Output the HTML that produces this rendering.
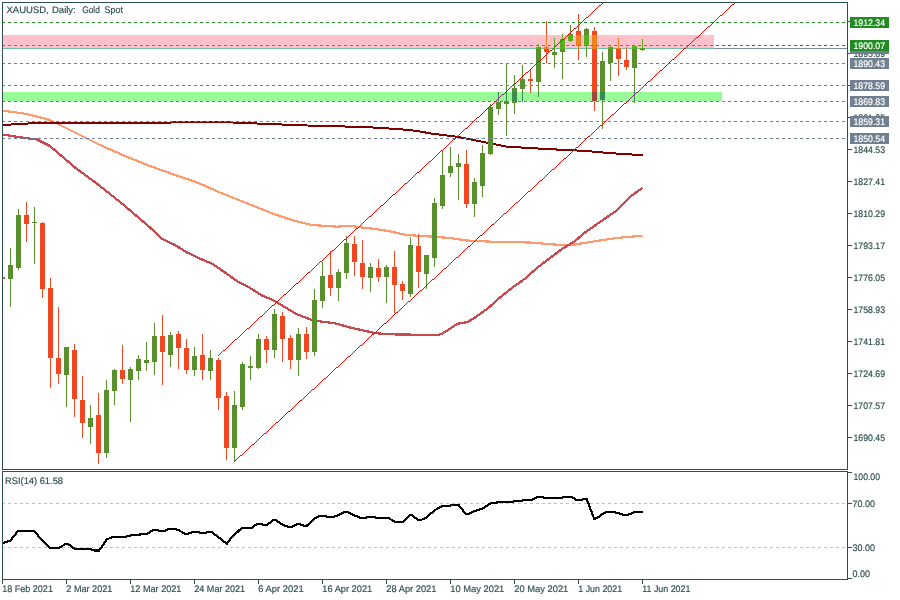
<!DOCTYPE html>
<html><head><meta charset="utf-8"><title>XAUUSD Daily</title>
<style>
html,body{margin:0;padding:0;background:#fff;}
svg{display:block;}
text{font-family:"Liberation Sans","DejaVu Sans",sans-serif;font-size:9.5px;fill:#2f4f4f;stroke:#2f4f4f;stroke-width:.18px;}
.w{fill:#fff;stroke:#fff;}
</style></head><body>
<svg width="900" height="600" viewBox="0 0 900 600" shape-rendering="crispEdges">
<defs>
<clipPath id="cm"><rect x="3" y="3" width="844" height="466"/></clipPath>
<clipPath id="cp"><rect x="3" y="35" width="711" height="14"/></clipPath>
<clipPath id="cg"><rect x="3" y="92" width="719" height="9"/></clipPath>
</defs>
<rect width="900" height="600" fill="#fff"/>
<g clip-path="url(#cm)">

<rect x="3" y="35" width="711" height="13" fill="#ffc0cb"/>
<rect x="3" y="92" width="719" height="9" fill="#98fb98"/>
<rect x="3" y="48" width="844" height="1" fill="#7b8b9b"/>
<rect x="3" y="48" width="711" height="1" fill="#70bfa4"/>
<g shape-rendering="crispEdges" fill="none" stroke-linejoin="round">
<polyline points="2,110.5 25,113.7 50,120 75,132.5 100,145 125,156 150,166 175,175 190,180 200,183.7 220,192.5 245,202.5 270,212.5 295,221 312,225 337,226.7 350,225.8 362,227.5 375,229 386.7,230.8 395,232.5 407,235 433,236.7 450,238 466.7,240.5 491.7,241.7 530,242.5 550,244.2 562.5,245 575,244.5 587.5,242.5 603.3,240 615,238.3 626.7,237 642.5,235.8" stroke="#ff9a6e" stroke-width="2.2"/>
<polyline points="2,134.5 25,138 37,139.5 50,146 75,167.5 100,186 125,206 150,227.5 162,238.7 175,245 187,252.5 200,258.7 212,263.7 225,272.5 237,281 250,288 262,295.5 275,301 280,304.2 296.7,314.2 313.3,320.5 335,323.3 350,327.5 363.3,330.5 375,333 386.7,334.2 413.3,334.7 437.5,335 442,333.7 450,328.7 457.5,323.7 462.5,323 467.5,322 475,317.5 487.5,308.7 500,297.5 512.5,287.5 525,278.7 537.5,267.5 550,258 562.5,248.7 575,241 585,232.5 601.7,220.8 615,211.7 630,196.7 642.5,188" stroke="#c84b50" stroke-width="2.3"/>
<polyline points="2,125 25,123.7 45,122.6 155,122.6 225,122.2 250,123.2 282,124.5 307,125.5 345,126.5 378,127.7 395,129 410,130 420,131.5 432,133.7 445,135.2 456.7,136.7 506.7,146.7 550,149.2 583.3,150.8 603,152.5 618,153.7 635,154.7 643,155" stroke="#800000" stroke-width="2"/>
</g>
<rect x="2" y="277" width="1" height="2" fill="#ef4822"/>
<rect x="0" y="277" width="5" height="2" fill="#ef4822"/>
<rect x="10" y="248" width="1" height="59" fill="#5a8f2e"/>
<rect x="8" y="265" width="5" height="14" fill="#5a8f2e"/>
<rect x="18" y="209" width="1" height="61" fill="#5a8f2e"/>
<rect x="16" y="215" width="5" height="53" fill="#5a8f2e"/>
<rect x="26" y="202" width="1" height="40" fill="#ef4822"/>
<rect x="24" y="215" width="5" height="9" fill="#ef4822"/>
<rect x="34" y="207" width="1" height="57" fill="#5a8f2e"/>
<rect x="32" y="222" width="5" height="1" fill="#5a8f2e"/>
<rect x="42" y="222" width="1" height="76" fill="#ef4822"/>
<rect x="40" y="223" width="5" height="66" fill="#ef4822"/>
<rect x="50" y="278" width="1" height="110" fill="#ef4822"/>
<rect x="48" y="288" width="5" height="70" fill="#ef4822"/>
<rect x="58" y="307" width="1" height="77" fill="#ef4822"/>
<rect x="56" y="358" width="5" height="16" fill="#ef4822"/>
<rect x="66" y="347" width="1" height="60" fill="#5a8f2e"/>
<rect x="64" y="347" width="5" height="28" fill="#5a8f2e"/>
<rect x="74" y="344" width="1" height="73" fill="#ef4822"/>
<rect x="72" y="350" width="5" height="49" fill="#ef4822"/>
<rect x="82" y="376" width="1" height="62" fill="#ef4822"/>
<rect x="80" y="400" width="5" height="23" fill="#ef4822"/>
<rect x="90" y="405" width="1" height="39" fill="#5a8f2e"/>
<rect x="88" y="418" width="5" height="9" fill="#5a8f2e"/>
<rect x="98" y="393" width="1" height="71" fill="#ef4822"/>
<rect x="96" y="415" width="5" height="38" fill="#ef4822"/>
<rect x="106" y="380" width="1" height="78" fill="#5a8f2e"/>
<rect x="104" y="390" width="5" height="63" fill="#5a8f2e"/>
<rect x="114" y="369" width="1" height="36" fill="#5a8f2e"/>
<rect x="112" y="370" width="5" height="21" fill="#5a8f2e"/>
<rect x="122" y="345" width="1" height="39" fill="#ef4822"/>
<rect x="120" y="370" width="5" height="9" fill="#ef4822"/>
<rect x="130" y="367" width="1" height="55" fill="#5a8f2e"/>
<rect x="128" y="369" width="5" height="11" fill="#5a8f2e"/>
<rect x="138" y="355" width="1" height="25" fill="#5a8f2e"/>
<rect x="136" y="359" width="5" height="12" fill="#5a8f2e"/>
<rect x="146" y="342" width="1" height="29" fill="#5a8f2e"/>
<rect x="144" y="360" width="5" height="3" fill="#5a8f2e"/>
<rect x="154" y="323" width="1" height="52" fill="#5a8f2e"/>
<rect x="152" y="336" width="5" height="26" fill="#5a8f2e"/>
<rect x="162" y="315" width="1" height="70" fill="#ef4822"/>
<rect x="160" y="336" width="5" height="16" fill="#ef4822"/>
<rect x="170" y="332" width="1" height="35" fill="#5a8f2e"/>
<rect x="168" y="335" width="5" height="20" fill="#5a8f2e"/>
<rect x="178" y="331" width="1" height="38" fill="#ef4822"/>
<rect x="176" y="334" width="5" height="14" fill="#ef4822"/>
<rect x="186" y="339" width="1" height="35" fill="#ef4822"/>
<rect x="184" y="348" width="5" height="22" fill="#ef4822"/>
<rect x="194" y="347" width="1" height="29" fill="#5a8f2e"/>
<rect x="192" y="356" width="5" height="14" fill="#5a8f2e"/>
<rect x="202" y="334" width="1" height="46" fill="#ef4822"/>
<rect x="200" y="355" width="5" height="15" fill="#ef4822"/>
<rect x="210" y="350" width="1" height="30" fill="#5a8f2e"/>
<rect x="208" y="358" width="5" height="13" fill="#5a8f2e"/>
<rect x="218" y="358" width="1" height="52" fill="#ef4822"/>
<rect x="216" y="360" width="5" height="38" fill="#ef4822"/>
<rect x="226" y="392" width="1" height="68" fill="#ef4822"/>
<rect x="224" y="396" width="5" height="52" fill="#ef4822"/>
<rect x="234" y="391" width="1" height="70" fill="#5a8f2e"/>
<rect x="232" y="405" width="5" height="43" fill="#5a8f2e"/>
<rect x="242" y="362" width="1" height="48" fill="#5a8f2e"/>
<rect x="240" y="364" width="5" height="43" fill="#5a8f2e"/>
<rect x="250" y="356" width="1" height="24" fill="#5a8f2e"/>
<rect x="248" y="366" width="5" height="2" fill="#5a8f2e"/>
<rect x="258" y="334" width="1" height="35" fill="#5a8f2e"/>
<rect x="256" y="339" width="5" height="29" fill="#5a8f2e"/>
<rect x="266" y="336" width="1" height="27" fill="#ef4822"/>
<rect x="264" y="339" width="5" height="11" fill="#ef4822"/>
<rect x="274" y="309" width="1" height="49" fill="#5a8f2e"/>
<rect x="272" y="314" width="5" height="36" fill="#5a8f2e"/>
<rect x="282" y="312" width="1" height="50" fill="#ef4822"/>
<rect x="280" y="316" width="5" height="23" fill="#ef4822"/>
<rect x="290" y="335" width="1" height="34" fill="#ef4822"/>
<rect x="288" y="338" width="5" height="22" fill="#ef4822"/>
<rect x="298" y="328" width="1" height="48" fill="#5a8f2e"/>
<rect x="296" y="334" width="5" height="26" fill="#5a8f2e"/>
<rect x="306" y="327" width="1" height="32" fill="#ef4822"/>
<rect x="304" y="334" width="5" height="18" fill="#ef4822"/>
<rect x="314" y="289" width="1" height="67" fill="#5a8f2e"/>
<rect x="312" y="300" width="5" height="52" fill="#5a8f2e"/>
<rect x="322" y="262" width="1" height="46" fill="#5a8f2e"/>
<rect x="320" y="276" width="5" height="25" fill="#5a8f2e"/>
<rect x="330" y="251" width="1" height="45" fill="#ef4822"/>
<rect x="328" y="275" width="5" height="13" fill="#ef4822"/>
<rect x="338" y="269" width="1" height="32" fill="#5a8f2e"/>
<rect x="336" y="272" width="5" height="16" fill="#5a8f2e"/>
<rect x="346" y="236" width="1" height="43" fill="#5a8f2e"/>
<rect x="344" y="243" width="5" height="30" fill="#5a8f2e"/>
<rect x="354" y="236" width="1" height="40" fill="#ef4822"/>
<rect x="352" y="244" width="5" height="18" fill="#ef4822"/>
<rect x="362" y="240" width="1" height="49" fill="#ef4822"/>
<rect x="360" y="263" width="5" height="14" fill="#ef4822"/>
<rect x="370" y="263" width="1" height="29" fill="#5a8f2e"/>
<rect x="368" y="267" width="5" height="11" fill="#5a8f2e"/>
<rect x="378" y="259" width="1" height="23" fill="#ef4822"/>
<rect x="376" y="268" width="5" height="9" fill="#ef4822"/>
<rect x="386" y="265" width="1" height="38" fill="#5a8f2e"/>
<rect x="384" y="267" width="5" height="10" fill="#5a8f2e"/>
<rect x="394" y="251" width="1" height="62" fill="#ef4822"/>
<rect x="392" y="267" width="5" height="18" fill="#ef4822"/>
<rect x="402" y="281" width="1" height="19" fill="#ef4822"/>
<rect x="400" y="284" width="5" height="7" fill="#ef4822"/>
<rect x="410" y="237" width="1" height="60" fill="#5a8f2e"/>
<rect x="408" y="245" width="5" height="49" fill="#5a8f2e"/>
<rect x="418" y="234" width="1" height="54" fill="#ef4822"/>
<rect x="416" y="246" width="5" height="26" fill="#ef4822"/>
<rect x="426" y="255" width="1" height="34" fill="#5a8f2e"/>
<rect x="424" y="255" width="5" height="19" fill="#5a8f2e"/>
<rect x="434" y="198" width="1" height="69" fill="#5a8f2e"/>
<rect x="432" y="203" width="5" height="55" fill="#5a8f2e"/>
<rect x="442" y="151" width="1" height="58" fill="#5a8f2e"/>
<rect x="440" y="175" width="5" height="31" fill="#5a8f2e"/>
<rect x="450" y="147" width="1" height="30" fill="#5a8f2e"/>
<rect x="448" y="166" width="5" height="7" fill="#5a8f2e"/>
<rect x="458" y="154" width="1" height="46" fill="#5a8f2e"/>
<rect x="456" y="163" width="5" height="4" fill="#5a8f2e"/>
<rect x="466" y="150" width="1" height="58" fill="#ef4822"/>
<rect x="464" y="164" width="5" height="40" fill="#ef4822"/>
<rect x="474" y="178" width="1" height="39" fill="#5a8f2e"/>
<rect x="472" y="182" width="5" height="22" fill="#5a8f2e"/>
<rect x="482" y="145" width="1" height="52" fill="#5a8f2e"/>
<rect x="480" y="153" width="5" height="33" fill="#5a8f2e"/>
<rect x="490" y="104" width="1" height="51" fill="#5a8f2e"/>
<rect x="488" y="107" width="5" height="47" fill="#5a8f2e"/>
<rect x="498" y="92" width="1" height="23" fill="#5a8f2e"/>
<rect x="496" y="102" width="5" height="7" fill="#5a8f2e"/>
<rect x="506" y="63" width="1" height="73" fill="#5a8f2e"/>
<rect x="504" y="101" width="5" height="3" fill="#5a8f2e"/>
<rect x="514" y="75" width="1" height="39" fill="#5a8f2e"/>
<rect x="512" y="88" width="5" height="15" fill="#5a8f2e"/>
<rect x="522" y="65" width="1" height="37" fill="#5a8f2e"/>
<rect x="520" y="79" width="5" height="10" fill="#5a8f2e"/>
<rect x="530" y="70" width="1" height="23" fill="#ef4822"/>
<rect x="528" y="79" width="5" height="2" fill="#ef4822"/>
<rect x="538" y="44" width="1" height="53" fill="#5a8f2e"/>
<rect x="536" y="47" width="5" height="35" fill="#5a8f2e"/>
<rect x="546" y="21" width="1" height="42" fill="#ef4822"/>
<rect x="544" y="47" width="5" height="5" fill="#ef4822"/>
<rect x="554" y="38" width="1" height="30" fill="#5a8f2e"/>
<rect x="552" y="52" width="5" height="3" fill="#5a8f2e"/>
<rect x="562" y="34" width="1" height="45" fill="#5a8f2e"/>
<rect x="560" y="39" width="5" height="13" fill="#5a8f2e"/>
<rect x="570" y="25" width="1" height="17" fill="#5a8f2e"/>
<rect x="568" y="34" width="5" height="7" fill="#5a8f2e"/>
<rect x="578" y="14" width="1" height="46" fill="#ef4822"/>
<rect x="576" y="31" width="5" height="15" fill="#ef4822"/>
<rect x="586" y="28" width="1" height="29" fill="#5a8f2e"/>
<rect x="584" y="29" width="5" height="17" fill="#5a8f2e"/>
<rect x="594" y="27" width="1" height="84" fill="#ef4822"/>
<rect x="592" y="31" width="5" height="70" fill="#ef4822"/>
<rect x="602" y="52" width="1" height="77" fill="#5a8f2e"/>
<rect x="600" y="61" width="5" height="39" fill="#5a8f2e"/>
<rect x="610" y="45" width="1" height="36" fill="#5a8f2e"/>
<rect x="608" y="47" width="5" height="16" fill="#5a8f2e"/>
<rect x="618" y="38" width="1" height="38" fill="#ef4822"/>
<rect x="616" y="48" width="5" height="11" fill="#ef4822"/>
<rect x="626" y="47" width="1" height="23" fill="#ef4822"/>
<rect x="624" y="60" width="5" height="7" fill="#ef4822"/>
<rect x="634" y="45" width="1" height="58" fill="#5a8f2e"/>
<rect x="632" y="46" width="5" height="22" fill="#5a8f2e"/>
<rect x="642" y="39" width="1" height="12" fill="#5a8f2e"/>
<rect x="640" y="48" width="5" height="2" fill="#5a8f2e"/>
<g clip-path="url(#cp)"><rect x="2" y="277" width="1" height="2" fill="#f0801e"/>
<rect x="0" y="277" width="5" height="2" fill="#f0801e"/>
<rect x="10" y="248" width="1" height="59" fill="#5ab01a"/>
<rect x="8" y="265" width="5" height="14" fill="#5ab01a"/>
<rect x="18" y="209" width="1" height="61" fill="#5ab01a"/>
<rect x="16" y="215" width="5" height="53" fill="#5ab01a"/>
<rect x="26" y="202" width="1" height="40" fill="#f0801e"/>
<rect x="24" y="215" width="5" height="9" fill="#f0801e"/>
<rect x="34" y="207" width="1" height="57" fill="#5ab01a"/>
<rect x="32" y="222" width="5" height="1" fill="#5ab01a"/>
<rect x="42" y="222" width="1" height="76" fill="#f0801e"/>
<rect x="40" y="223" width="5" height="66" fill="#f0801e"/>
<rect x="50" y="278" width="1" height="110" fill="#f0801e"/>
<rect x="48" y="288" width="5" height="70" fill="#f0801e"/>
<rect x="58" y="307" width="1" height="77" fill="#f0801e"/>
<rect x="56" y="358" width="5" height="16" fill="#f0801e"/>
<rect x="66" y="347" width="1" height="60" fill="#5ab01a"/>
<rect x="64" y="347" width="5" height="28" fill="#5ab01a"/>
<rect x="74" y="344" width="1" height="73" fill="#f0801e"/>
<rect x="72" y="350" width="5" height="49" fill="#f0801e"/>
<rect x="82" y="376" width="1" height="62" fill="#f0801e"/>
<rect x="80" y="400" width="5" height="23" fill="#f0801e"/>
<rect x="90" y="405" width="1" height="39" fill="#5ab01a"/>
<rect x="88" y="418" width="5" height="9" fill="#5ab01a"/>
<rect x="98" y="393" width="1" height="71" fill="#f0801e"/>
<rect x="96" y="415" width="5" height="38" fill="#f0801e"/>
<rect x="106" y="380" width="1" height="78" fill="#5ab01a"/>
<rect x="104" y="390" width="5" height="63" fill="#5ab01a"/>
<rect x="114" y="369" width="1" height="36" fill="#5ab01a"/>
<rect x="112" y="370" width="5" height="21" fill="#5ab01a"/>
<rect x="122" y="345" width="1" height="39" fill="#f0801e"/>
<rect x="120" y="370" width="5" height="9" fill="#f0801e"/>
<rect x="130" y="367" width="1" height="55" fill="#5ab01a"/>
<rect x="128" y="369" width="5" height="11" fill="#5ab01a"/>
<rect x="138" y="355" width="1" height="25" fill="#5ab01a"/>
<rect x="136" y="359" width="5" height="12" fill="#5ab01a"/>
<rect x="146" y="342" width="1" height="29" fill="#5ab01a"/>
<rect x="144" y="360" width="5" height="3" fill="#5ab01a"/>
<rect x="154" y="323" width="1" height="52" fill="#5ab01a"/>
<rect x="152" y="336" width="5" height="26" fill="#5ab01a"/>
<rect x="162" y="315" width="1" height="70" fill="#f0801e"/>
<rect x="160" y="336" width="5" height="16" fill="#f0801e"/>
<rect x="170" y="332" width="1" height="35" fill="#5ab01a"/>
<rect x="168" y="335" width="5" height="20" fill="#5ab01a"/>
<rect x="178" y="331" width="1" height="38" fill="#f0801e"/>
<rect x="176" y="334" width="5" height="14" fill="#f0801e"/>
<rect x="186" y="339" width="1" height="35" fill="#f0801e"/>
<rect x="184" y="348" width="5" height="22" fill="#f0801e"/>
<rect x="194" y="347" width="1" height="29" fill="#5ab01a"/>
<rect x="192" y="356" width="5" height="14" fill="#5ab01a"/>
<rect x="202" y="334" width="1" height="46" fill="#f0801e"/>
<rect x="200" y="355" width="5" height="15" fill="#f0801e"/>
<rect x="210" y="350" width="1" height="30" fill="#5ab01a"/>
<rect x="208" y="358" width="5" height="13" fill="#5ab01a"/>
<rect x="218" y="358" width="1" height="52" fill="#f0801e"/>
<rect x="216" y="360" width="5" height="38" fill="#f0801e"/>
<rect x="226" y="392" width="1" height="68" fill="#f0801e"/>
<rect x="224" y="396" width="5" height="52" fill="#f0801e"/>
<rect x="234" y="391" width="1" height="70" fill="#5ab01a"/>
<rect x="232" y="405" width="5" height="43" fill="#5ab01a"/>
<rect x="242" y="362" width="1" height="48" fill="#5ab01a"/>
<rect x="240" y="364" width="5" height="43" fill="#5ab01a"/>
<rect x="250" y="356" width="1" height="24" fill="#5ab01a"/>
<rect x="248" y="366" width="5" height="2" fill="#5ab01a"/>
<rect x="258" y="334" width="1" height="35" fill="#5ab01a"/>
<rect x="256" y="339" width="5" height="29" fill="#5ab01a"/>
<rect x="266" y="336" width="1" height="27" fill="#f0801e"/>
<rect x="264" y="339" width="5" height="11" fill="#f0801e"/>
<rect x="274" y="309" width="1" height="49" fill="#5ab01a"/>
<rect x="272" y="314" width="5" height="36" fill="#5ab01a"/>
<rect x="282" y="312" width="1" height="50" fill="#f0801e"/>
<rect x="280" y="316" width="5" height="23" fill="#f0801e"/>
<rect x="290" y="335" width="1" height="34" fill="#f0801e"/>
<rect x="288" y="338" width="5" height="22" fill="#f0801e"/>
<rect x="298" y="328" width="1" height="48" fill="#5ab01a"/>
<rect x="296" y="334" width="5" height="26" fill="#5ab01a"/>
<rect x="306" y="327" width="1" height="32" fill="#f0801e"/>
<rect x="304" y="334" width="5" height="18" fill="#f0801e"/>
<rect x="314" y="289" width="1" height="67" fill="#5ab01a"/>
<rect x="312" y="300" width="5" height="52" fill="#5ab01a"/>
<rect x="322" y="262" width="1" height="46" fill="#5ab01a"/>
<rect x="320" y="276" width="5" height="25" fill="#5ab01a"/>
<rect x="330" y="251" width="1" height="45" fill="#f0801e"/>
<rect x="328" y="275" width="5" height="13" fill="#f0801e"/>
<rect x="338" y="269" width="1" height="32" fill="#5ab01a"/>
<rect x="336" y="272" width="5" height="16" fill="#5ab01a"/>
<rect x="346" y="236" width="1" height="43" fill="#5ab01a"/>
<rect x="344" y="243" width="5" height="30" fill="#5ab01a"/>
<rect x="354" y="236" width="1" height="40" fill="#f0801e"/>
<rect x="352" y="244" width="5" height="18" fill="#f0801e"/>
<rect x="362" y="240" width="1" height="49" fill="#f0801e"/>
<rect x="360" y="263" width="5" height="14" fill="#f0801e"/>
<rect x="370" y="263" width="1" height="29" fill="#5ab01a"/>
<rect x="368" y="267" width="5" height="11" fill="#5ab01a"/>
<rect x="378" y="259" width="1" height="23" fill="#f0801e"/>
<rect x="376" y="268" width="5" height="9" fill="#f0801e"/>
<rect x="386" y="265" width="1" height="38" fill="#5ab01a"/>
<rect x="384" y="267" width="5" height="10" fill="#5ab01a"/>
<rect x="394" y="251" width="1" height="62" fill="#f0801e"/>
<rect x="392" y="267" width="5" height="18" fill="#f0801e"/>
<rect x="402" y="281" width="1" height="19" fill="#f0801e"/>
<rect x="400" y="284" width="5" height="7" fill="#f0801e"/>
<rect x="410" y="237" width="1" height="60" fill="#5ab01a"/>
<rect x="408" y="245" width="5" height="49" fill="#5ab01a"/>
<rect x="418" y="234" width="1" height="54" fill="#f0801e"/>
<rect x="416" y="246" width="5" height="26" fill="#f0801e"/>
<rect x="426" y="255" width="1" height="34" fill="#5ab01a"/>
<rect x="424" y="255" width="5" height="19" fill="#5ab01a"/>
<rect x="434" y="198" width="1" height="69" fill="#5ab01a"/>
<rect x="432" y="203" width="5" height="55" fill="#5ab01a"/>
<rect x="442" y="151" width="1" height="58" fill="#5ab01a"/>
<rect x="440" y="175" width="5" height="31" fill="#5ab01a"/>
<rect x="450" y="147" width="1" height="30" fill="#5ab01a"/>
<rect x="448" y="166" width="5" height="7" fill="#5ab01a"/>
<rect x="458" y="154" width="1" height="46" fill="#5ab01a"/>
<rect x="456" y="163" width="5" height="4" fill="#5ab01a"/>
<rect x="466" y="150" width="1" height="58" fill="#f0801e"/>
<rect x="464" y="164" width="5" height="40" fill="#f0801e"/>
<rect x="474" y="178" width="1" height="39" fill="#5ab01a"/>
<rect x="472" y="182" width="5" height="22" fill="#5ab01a"/>
<rect x="482" y="145" width="1" height="52" fill="#5ab01a"/>
<rect x="480" y="153" width="5" height="33" fill="#5ab01a"/>
<rect x="490" y="104" width="1" height="51" fill="#5ab01a"/>
<rect x="488" y="107" width="5" height="47" fill="#5ab01a"/>
<rect x="498" y="92" width="1" height="23" fill="#5ab01a"/>
<rect x="496" y="102" width="5" height="7" fill="#5ab01a"/>
<rect x="506" y="63" width="1" height="73" fill="#5ab01a"/>
<rect x="504" y="101" width="5" height="3" fill="#5ab01a"/>
<rect x="514" y="75" width="1" height="39" fill="#5ab01a"/>
<rect x="512" y="88" width="5" height="15" fill="#5ab01a"/>
<rect x="522" y="65" width="1" height="37" fill="#5ab01a"/>
<rect x="520" y="79" width="5" height="10" fill="#5ab01a"/>
<rect x="530" y="70" width="1" height="23" fill="#f0801e"/>
<rect x="528" y="79" width="5" height="2" fill="#f0801e"/>
<rect x="538" y="44" width="1" height="53" fill="#5ab01a"/>
<rect x="536" y="47" width="5" height="35" fill="#5ab01a"/>
<rect x="546" y="21" width="1" height="42" fill="#f0801e"/>
<rect x="544" y="47" width="5" height="5" fill="#f0801e"/>
<rect x="554" y="38" width="1" height="30" fill="#5ab01a"/>
<rect x="552" y="52" width="5" height="3" fill="#5ab01a"/>
<rect x="562" y="34" width="1" height="45" fill="#5ab01a"/>
<rect x="560" y="39" width="5" height="13" fill="#5ab01a"/>
<rect x="570" y="25" width="1" height="17" fill="#5ab01a"/>
<rect x="568" y="34" width="5" height="7" fill="#5ab01a"/>
<rect x="578" y="14" width="1" height="46" fill="#f0801e"/>
<rect x="576" y="31" width="5" height="15" fill="#f0801e"/>
<rect x="586" y="28" width="1" height="29" fill="#5ab01a"/>
<rect x="584" y="29" width="5" height="17" fill="#5ab01a"/>
<rect x="594" y="27" width="1" height="84" fill="#f0801e"/>
<rect x="592" y="31" width="5" height="70" fill="#f0801e"/>
<rect x="602" y="52" width="1" height="77" fill="#5ab01a"/>
<rect x="600" y="61" width="5" height="39" fill="#5ab01a"/>
<rect x="610" y="45" width="1" height="36" fill="#5ab01a"/>
<rect x="608" y="47" width="5" height="16" fill="#5ab01a"/>
<rect x="618" y="38" width="1" height="38" fill="#f0801e"/>
<rect x="616" y="48" width="5" height="11" fill="#f0801e"/>
<rect x="626" y="47" width="1" height="23" fill="#f0801e"/>
<rect x="624" y="60" width="5" height="7" fill="#f0801e"/>
<rect x="634" y="45" width="1" height="58" fill="#5ab01a"/>
<rect x="632" y="46" width="5" height="22" fill="#5ab01a"/>
<rect x="642" y="39" width="1" height="12" fill="#5ab01a"/>
<rect x="640" y="48" width="5" height="2" fill="#5ab01a"/></g>
<g clip-path="url(#cg)"><rect x="2" y="277" width="1" height="2" fill="#9a4840"/>
<rect x="0" y="277" width="5" height="2" fill="#9a4840"/>
<rect x="10" y="248" width="1" height="59" fill="#3c8c50"/>
<rect x="8" y="265" width="5" height="14" fill="#3c8c50"/>
<rect x="18" y="209" width="1" height="61" fill="#3c8c50"/>
<rect x="16" y="215" width="5" height="53" fill="#3c8c50"/>
<rect x="26" y="202" width="1" height="40" fill="#9a4840"/>
<rect x="24" y="215" width="5" height="9" fill="#9a4840"/>
<rect x="34" y="207" width="1" height="57" fill="#3c8c50"/>
<rect x="32" y="222" width="5" height="1" fill="#3c8c50"/>
<rect x="42" y="222" width="1" height="76" fill="#9a4840"/>
<rect x="40" y="223" width="5" height="66" fill="#9a4840"/>
<rect x="50" y="278" width="1" height="110" fill="#9a4840"/>
<rect x="48" y="288" width="5" height="70" fill="#9a4840"/>
<rect x="58" y="307" width="1" height="77" fill="#9a4840"/>
<rect x="56" y="358" width="5" height="16" fill="#9a4840"/>
<rect x="66" y="347" width="1" height="60" fill="#3c8c50"/>
<rect x="64" y="347" width="5" height="28" fill="#3c8c50"/>
<rect x="74" y="344" width="1" height="73" fill="#9a4840"/>
<rect x="72" y="350" width="5" height="49" fill="#9a4840"/>
<rect x="82" y="376" width="1" height="62" fill="#9a4840"/>
<rect x="80" y="400" width="5" height="23" fill="#9a4840"/>
<rect x="90" y="405" width="1" height="39" fill="#3c8c50"/>
<rect x="88" y="418" width="5" height="9" fill="#3c8c50"/>
<rect x="98" y="393" width="1" height="71" fill="#9a4840"/>
<rect x="96" y="415" width="5" height="38" fill="#9a4840"/>
<rect x="106" y="380" width="1" height="78" fill="#3c8c50"/>
<rect x="104" y="390" width="5" height="63" fill="#3c8c50"/>
<rect x="114" y="369" width="1" height="36" fill="#3c8c50"/>
<rect x="112" y="370" width="5" height="21" fill="#3c8c50"/>
<rect x="122" y="345" width="1" height="39" fill="#9a4840"/>
<rect x="120" y="370" width="5" height="9" fill="#9a4840"/>
<rect x="130" y="367" width="1" height="55" fill="#3c8c50"/>
<rect x="128" y="369" width="5" height="11" fill="#3c8c50"/>
<rect x="138" y="355" width="1" height="25" fill="#3c8c50"/>
<rect x="136" y="359" width="5" height="12" fill="#3c8c50"/>
<rect x="146" y="342" width="1" height="29" fill="#3c8c50"/>
<rect x="144" y="360" width="5" height="3" fill="#3c8c50"/>
<rect x="154" y="323" width="1" height="52" fill="#3c8c50"/>
<rect x="152" y="336" width="5" height="26" fill="#3c8c50"/>
<rect x="162" y="315" width="1" height="70" fill="#9a4840"/>
<rect x="160" y="336" width="5" height="16" fill="#9a4840"/>
<rect x="170" y="332" width="1" height="35" fill="#3c8c50"/>
<rect x="168" y="335" width="5" height="20" fill="#3c8c50"/>
<rect x="178" y="331" width="1" height="38" fill="#9a4840"/>
<rect x="176" y="334" width="5" height="14" fill="#9a4840"/>
<rect x="186" y="339" width="1" height="35" fill="#9a4840"/>
<rect x="184" y="348" width="5" height="22" fill="#9a4840"/>
<rect x="194" y="347" width="1" height="29" fill="#3c8c50"/>
<rect x="192" y="356" width="5" height="14" fill="#3c8c50"/>
<rect x="202" y="334" width="1" height="46" fill="#9a4840"/>
<rect x="200" y="355" width="5" height="15" fill="#9a4840"/>
<rect x="210" y="350" width="1" height="30" fill="#3c8c50"/>
<rect x="208" y="358" width="5" height="13" fill="#3c8c50"/>
<rect x="218" y="358" width="1" height="52" fill="#9a4840"/>
<rect x="216" y="360" width="5" height="38" fill="#9a4840"/>
<rect x="226" y="392" width="1" height="68" fill="#9a4840"/>
<rect x="224" y="396" width="5" height="52" fill="#9a4840"/>
<rect x="234" y="391" width="1" height="70" fill="#3c8c50"/>
<rect x="232" y="405" width="5" height="43" fill="#3c8c50"/>
<rect x="242" y="362" width="1" height="48" fill="#3c8c50"/>
<rect x="240" y="364" width="5" height="43" fill="#3c8c50"/>
<rect x="250" y="356" width="1" height="24" fill="#3c8c50"/>
<rect x="248" y="366" width="5" height="2" fill="#3c8c50"/>
<rect x="258" y="334" width="1" height="35" fill="#3c8c50"/>
<rect x="256" y="339" width="5" height="29" fill="#3c8c50"/>
<rect x="266" y="336" width="1" height="27" fill="#9a4840"/>
<rect x="264" y="339" width="5" height="11" fill="#9a4840"/>
<rect x="274" y="309" width="1" height="49" fill="#3c8c50"/>
<rect x="272" y="314" width="5" height="36" fill="#3c8c50"/>
<rect x="282" y="312" width="1" height="50" fill="#9a4840"/>
<rect x="280" y="316" width="5" height="23" fill="#9a4840"/>
<rect x="290" y="335" width="1" height="34" fill="#9a4840"/>
<rect x="288" y="338" width="5" height="22" fill="#9a4840"/>
<rect x="298" y="328" width="1" height="48" fill="#3c8c50"/>
<rect x="296" y="334" width="5" height="26" fill="#3c8c50"/>
<rect x="306" y="327" width="1" height="32" fill="#9a4840"/>
<rect x="304" y="334" width="5" height="18" fill="#9a4840"/>
<rect x="314" y="289" width="1" height="67" fill="#3c8c50"/>
<rect x="312" y="300" width="5" height="52" fill="#3c8c50"/>
<rect x="322" y="262" width="1" height="46" fill="#3c8c50"/>
<rect x="320" y="276" width="5" height="25" fill="#3c8c50"/>
<rect x="330" y="251" width="1" height="45" fill="#9a4840"/>
<rect x="328" y="275" width="5" height="13" fill="#9a4840"/>
<rect x="338" y="269" width="1" height="32" fill="#3c8c50"/>
<rect x="336" y="272" width="5" height="16" fill="#3c8c50"/>
<rect x="346" y="236" width="1" height="43" fill="#3c8c50"/>
<rect x="344" y="243" width="5" height="30" fill="#3c8c50"/>
<rect x="354" y="236" width="1" height="40" fill="#9a4840"/>
<rect x="352" y="244" width="5" height="18" fill="#9a4840"/>
<rect x="362" y="240" width="1" height="49" fill="#9a4840"/>
<rect x="360" y="263" width="5" height="14" fill="#9a4840"/>
<rect x="370" y="263" width="1" height="29" fill="#3c8c50"/>
<rect x="368" y="267" width="5" height="11" fill="#3c8c50"/>
<rect x="378" y="259" width="1" height="23" fill="#9a4840"/>
<rect x="376" y="268" width="5" height="9" fill="#9a4840"/>
<rect x="386" y="265" width="1" height="38" fill="#3c8c50"/>
<rect x="384" y="267" width="5" height="10" fill="#3c8c50"/>
<rect x="394" y="251" width="1" height="62" fill="#9a4840"/>
<rect x="392" y="267" width="5" height="18" fill="#9a4840"/>
<rect x="402" y="281" width="1" height="19" fill="#9a4840"/>
<rect x="400" y="284" width="5" height="7" fill="#9a4840"/>
<rect x="410" y="237" width="1" height="60" fill="#3c8c50"/>
<rect x="408" y="245" width="5" height="49" fill="#3c8c50"/>
<rect x="418" y="234" width="1" height="54" fill="#9a4840"/>
<rect x="416" y="246" width="5" height="26" fill="#9a4840"/>
<rect x="426" y="255" width="1" height="34" fill="#3c8c50"/>
<rect x="424" y="255" width="5" height="19" fill="#3c8c50"/>
<rect x="434" y="198" width="1" height="69" fill="#3c8c50"/>
<rect x="432" y="203" width="5" height="55" fill="#3c8c50"/>
<rect x="442" y="151" width="1" height="58" fill="#3c8c50"/>
<rect x="440" y="175" width="5" height="31" fill="#3c8c50"/>
<rect x="450" y="147" width="1" height="30" fill="#3c8c50"/>
<rect x="448" y="166" width="5" height="7" fill="#3c8c50"/>
<rect x="458" y="154" width="1" height="46" fill="#3c8c50"/>
<rect x="456" y="163" width="5" height="4" fill="#3c8c50"/>
<rect x="466" y="150" width="1" height="58" fill="#9a4840"/>
<rect x="464" y="164" width="5" height="40" fill="#9a4840"/>
<rect x="474" y="178" width="1" height="39" fill="#3c8c50"/>
<rect x="472" y="182" width="5" height="22" fill="#3c8c50"/>
<rect x="482" y="145" width="1" height="52" fill="#3c8c50"/>
<rect x="480" y="153" width="5" height="33" fill="#3c8c50"/>
<rect x="490" y="104" width="1" height="51" fill="#3c8c50"/>
<rect x="488" y="107" width="5" height="47" fill="#3c8c50"/>
<rect x="498" y="92" width="1" height="23" fill="#3c8c50"/>
<rect x="496" y="102" width="5" height="7" fill="#3c8c50"/>
<rect x="506" y="63" width="1" height="73" fill="#3c8c50"/>
<rect x="504" y="101" width="5" height="3" fill="#3c8c50"/>
<rect x="514" y="75" width="1" height="39" fill="#3c8c50"/>
<rect x="512" y="88" width="5" height="15" fill="#3c8c50"/>
<rect x="522" y="65" width="1" height="37" fill="#3c8c50"/>
<rect x="520" y="79" width="5" height="10" fill="#3c8c50"/>
<rect x="530" y="70" width="1" height="23" fill="#9a4840"/>
<rect x="528" y="79" width="5" height="2" fill="#9a4840"/>
<rect x="538" y="44" width="1" height="53" fill="#3c8c50"/>
<rect x="536" y="47" width="5" height="35" fill="#3c8c50"/>
<rect x="546" y="21" width="1" height="42" fill="#9a4840"/>
<rect x="544" y="47" width="5" height="5" fill="#9a4840"/>
<rect x="554" y="38" width="1" height="30" fill="#3c8c50"/>
<rect x="552" y="52" width="5" height="3" fill="#3c8c50"/>
<rect x="562" y="34" width="1" height="45" fill="#3c8c50"/>
<rect x="560" y="39" width="5" height="13" fill="#3c8c50"/>
<rect x="570" y="25" width="1" height="17" fill="#3c8c50"/>
<rect x="568" y="34" width="5" height="7" fill="#3c8c50"/>
<rect x="578" y="14" width="1" height="46" fill="#9a4840"/>
<rect x="576" y="31" width="5" height="15" fill="#9a4840"/>
<rect x="586" y="28" width="1" height="29" fill="#3c8c50"/>
<rect x="584" y="29" width="5" height="17" fill="#3c8c50"/>
<rect x="594" y="27" width="1" height="84" fill="#9a4840"/>
<rect x="592" y="31" width="5" height="70" fill="#9a4840"/>
<rect x="602" y="52" width="1" height="77" fill="#3c8c50"/>
<rect x="600" y="61" width="5" height="39" fill="#3c8c50"/>
<rect x="610" y="45" width="1" height="36" fill="#3c8c50"/>
<rect x="608" y="47" width="5" height="16" fill="#3c8c50"/>
<rect x="618" y="38" width="1" height="38" fill="#9a4840"/>
<rect x="616" y="48" width="5" height="11" fill="#9a4840"/>
<rect x="626" y="47" width="1" height="23" fill="#9a4840"/>
<rect x="624" y="60" width="5" height="7" fill="#9a4840"/>
<rect x="634" y="45" width="1" height="58" fill="#3c8c50"/>
<rect x="632" y="46" width="5" height="22" fill="#3c8c50"/>
<rect x="642" y="39" width="1" height="12" fill="#3c8c50"/>
<rect x="640" y="48" width="5" height="2" fill="#3c8c50"/></g>
<line x1="3" x2="847" y1="22.5" y2="22.5" stroke="#228b22" stroke-width="1" stroke-dasharray="3 3" stroke-dashoffset="1"/>
<line x1="3" x2="847" y1="45.5" y2="45.5" stroke="#228b22" stroke-width="1" stroke-dasharray="3 3" stroke-dashoffset="1"/>
<line x1="3" x2="847" y1="63.5" y2="63.5" stroke="#708090" stroke-width="1" stroke-dasharray="3 3" stroke-dashoffset="1"/>
<line x1="3" x2="847" y1="85.5" y2="85.5" stroke="#708090" stroke-width="1" stroke-dasharray="3 3" stroke-dashoffset="1"/>
<line x1="3" x2="847" y1="101.5" y2="101.5" stroke="#708090" stroke-width="1" stroke-dasharray="3 3" stroke-dashoffset="1"/>
<line x1="3" x2="847" y1="121.5" y2="121.5" stroke="#708090" stroke-width="1" stroke-dasharray="3 3" stroke-dashoffset="1"/>
<line x1="3" x2="847" y1="138.5" y2="138.5" stroke="#708090" stroke-width="1" stroke-dasharray="3 3" stroke-dashoffset="1"/>
<line x1="3" x2="714" y1="45.5" y2="45.5" stroke="#22b416" stroke-width="1" stroke-dasharray="3 3" stroke-dashoffset="1"/>
<path d="M218 355h1v1h-1zM219 354h1v1h-1zM220 353h1v1h-1zM221 352h1v1h-1zM222 351h1v1h-1zM223 350h2v1h-2zM225 349h1v1h-1zM226 348h1v1h-1zM227 347h1v1h-1zM228 346h1v1h-1zM229 345h1v1h-1zM230 344h1v1h-1zM231 343h1v1h-1zM232 342h1v1h-1zM233 341h1v1h-1zM234 340h1v1h-1zM235 339h2v1h-2zM237 338h1v1h-1zM238 337h1v1h-1zM239 336h1v1h-1zM240 335h1v1h-1zM241 334h1v1h-1zM242 333h1v1h-1zM243 332h1v1h-1zM244 331h1v1h-1zM245 330h1v1h-1zM246 329h1v1h-1zM247 328h2v1h-2zM249 327h1v1h-1zM250 326h1v1h-1zM251 325h1v1h-1zM252 324h1v1h-1zM253 323h1v1h-1zM254 322h1v1h-1zM255 321h1v1h-1zM256 320h1v1h-1zM257 319h1v1h-1zM258 318h1v1h-1zM259 317h1v1h-1zM260 316h2v1h-2zM262 315h1v1h-1zM263 314h1v1h-1zM264 313h1v1h-1zM265 312h1v1h-1zM266 311h1v1h-1zM267 310h1v1h-1zM268 309h1v1h-1zM269 308h1v1h-1zM270 307h1v1h-1zM271 306h1v1h-1zM272 305h2v1h-2zM274 304h1v1h-1zM275 303h1v1h-1zM276 302h1v1h-1zM277 301h1v1h-1zM278 300h1v1h-1zM279 299h1v1h-1zM280 298h1v1h-1zM281 297h1v1h-1zM282 296h1v1h-1zM283 295h1v1h-1zM284 294h2v1h-2zM286 293h1v1h-1zM287 292h1v1h-1zM288 291h1v1h-1zM289 290h1v1h-1zM290 289h1v1h-1zM291 288h1v1h-1zM292 287h1v1h-1zM293 286h1v1h-1zM294 285h1v1h-1zM295 284h1v1h-1zM296 283h2v1h-2zM298 282h1v1h-1zM299 281h1v1h-1zM300 280h1v1h-1zM301 279h1v1h-1zM302 278h1v1h-1zM303 277h1v1h-1zM304 276h1v1h-1zM305 275h1v1h-1zM306 274h1v1h-1zM307 273h1v1h-1zM308 272h2v1h-2zM310 271h1v1h-1zM311 270h1v1h-1zM312 269h1v1h-1zM313 268h1v1h-1zM314 267h1v1h-1zM315 266h1v1h-1zM316 265h1v1h-1zM317 264h1v1h-1zM318 263h1v1h-1zM319 262h1v1h-1zM320 261h2v1h-2zM322 260h1v1h-1zM323 259h1v1h-1zM324 258h1v1h-1zM325 257h1v1h-1zM326 256h1v1h-1zM327 255h1v1h-1zM328 254h1v1h-1zM329 253h1v1h-1zM330 252h1v1h-1zM331 251h1v1h-1zM332 250h2v1h-2zM334 249h1v1h-1zM335 248h1v1h-1zM336 247h1v1h-1zM337 246h1v1h-1zM338 245h1v1h-1zM339 244h1v1h-1zM340 243h1v1h-1zM341 242h1v1h-1zM342 241h1v1h-1zM343 240h1v1h-1zM344 239h2v1h-2zM346 238h1v1h-1zM347 237h1v1h-1zM348 236h1v1h-1zM349 235h1v1h-1zM350 234h1v1h-1zM351 233h1v1h-1zM352 232h1v1h-1zM353 231h1v1h-1zM354 230h1v1h-1zM355 229h1v1h-1zM356 228h2v1h-2zM358 227h1v1h-1zM359 226h1v1h-1zM360 225h1v1h-1zM361 224h1v1h-1zM362 223h1v1h-1zM363 222h1v1h-1zM364 221h1v1h-1zM365 220h1v1h-1zM366 219h1v1h-1zM367 218h1v1h-1zM368 217h1v1h-1zM369 216h2v1h-2zM371 215h1v1h-1zM372 214h1v1h-1zM373 213h1v1h-1zM374 212h1v1h-1zM375 211h1v1h-1zM376 210h1v1h-1zM377 209h1v1h-1zM378 208h1v1h-1zM379 207h1v1h-1zM380 206h1v1h-1zM381 205h2v1h-2zM383 204h1v1h-1zM384 203h1v1h-1zM385 202h1v1h-1zM386 201h1v1h-1zM387 200h1v1h-1zM388 199h1v1h-1zM389 198h1v1h-1zM390 197h1v1h-1zM391 196h1v1h-1zM392 195h1v1h-1zM393 194h2v1h-2zM395 193h1v1h-1zM396 192h1v1h-1zM397 191h1v1h-1zM398 190h1v1h-1zM399 189h1v1h-1zM400 188h1v1h-1zM401 187h1v1h-1zM402 186h1v1h-1zM403 185h1v1h-1zM404 184h1v1h-1zM405 183h2v1h-2zM407 182h1v1h-1zM408 181h1v1h-1zM409 180h1v1h-1zM410 179h1v1h-1zM411 178h1v1h-1zM412 177h1v1h-1zM413 176h1v1h-1zM414 175h1v1h-1zM415 174h1v1h-1zM416 173h1v1h-1zM417 172h2v1h-2zM419 171h1v1h-1zM420 170h1v1h-1zM421 169h1v1h-1zM422 168h1v1h-1zM423 167h1v1h-1zM424 166h1v1h-1zM425 165h1v1h-1zM426 164h1v1h-1zM427 163h1v1h-1zM428 162h1v1h-1zM429 161h2v1h-2zM431 160h1v1h-1zM432 159h1v1h-1zM433 158h1v1h-1zM434 157h1v1h-1zM435 156h1v1h-1zM436 155h1v1h-1zM437 154h1v1h-1zM438 153h1v1h-1zM439 152h1v1h-1zM440 151h1v1h-1zM441 150h2v1h-2zM443 149h1v1h-1zM444 148h1v1h-1zM445 147h1v1h-1zM446 146h1v1h-1zM447 145h1v1h-1zM448 144h1v1h-1zM449 143h1v1h-1zM450 142h1v1h-1zM451 141h1v1h-1zM452 140h1v1h-1zM453 139h2v1h-2zM455 138h1v1h-1zM456 137h1v1h-1zM457 136h1v1h-1zM458 135h1v1h-1zM459 134h1v1h-1zM460 133h1v1h-1zM461 132h1v1h-1zM462 131h1v1h-1zM463 130h1v1h-1zM464 129h1v1h-1zM465 128h2v1h-2zM467 127h1v1h-1zM468 126h1v1h-1zM469 125h1v1h-1zM470 124h1v1h-1zM471 123h1v1h-1zM472 122h1v1h-1zM473 121h1v1h-1zM474 120h1v1h-1zM475 119h1v1h-1zM476 118h1v1h-1zM477 117h2v1h-2zM479 116h1v1h-1zM480 115h1v1h-1zM481 114h1v1h-1zM482 113h1v1h-1zM483 112h1v1h-1zM484 111h1v1h-1zM485 110h1v1h-1zM486 109h1v1h-1zM487 108h1v1h-1zM488 107h1v1h-1zM489 106h1v1h-1zM490 105h2v1h-2zM492 104h1v1h-1zM493 103h1v1h-1zM494 102h1v1h-1zM495 101h1v1h-1zM496 100h1v1h-1zM497 99h1v1h-1zM498 98h1v1h-1zM499 97h1v1h-1zM500 96h1v1h-1zM501 95h1v1h-1zM502 94h2v1h-2zM504 93h1v1h-1zM505 92h1v1h-1zM506 91h1v1h-1zM507 90h1v1h-1zM508 89h1v1h-1zM509 88h1v1h-1zM510 87h1v1h-1zM511 86h1v1h-1zM512 85h1v1h-1zM513 84h1v1h-1zM514 83h2v1h-2zM516 82h1v1h-1zM517 81h1v1h-1zM518 80h1v1h-1zM519 79h1v1h-1zM520 78h1v1h-1zM521 77h1v1h-1zM522 76h1v1h-1zM523 75h1v1h-1zM524 74h1v1h-1zM525 73h1v1h-1zM526 72h2v1h-2zM528 71h1v1h-1zM529 70h1v1h-1zM530 69h1v1h-1zM531 68h1v1h-1zM532 67h1v1h-1zM533 66h1v1h-1zM534 65h1v1h-1zM535 64h1v1h-1zM536 63h1v1h-1zM537 62h1v1h-1zM538 61h2v1h-2zM540 60h1v1h-1zM541 59h1v1h-1zM542 58h1v1h-1zM543 57h1v1h-1zM544 56h1v1h-1zM545 55h1v1h-1zM546 54h1v1h-1zM547 53h1v1h-1zM548 52h1v1h-1zM549 51h1v1h-1zM550 50h2v1h-2zM552 49h1v1h-1zM553 48h1v1h-1zM554 47h1v1h-1zM555 46h1v1h-1zM556 45h1v1h-1zM557 44h1v1h-1zM558 43h1v1h-1zM559 42h1v1h-1zM560 41h1v1h-1zM561 40h1v1h-1zM562 39h2v1h-2zM564 38h1v1h-1zM565 37h1v1h-1zM566 36h1v1h-1zM567 35h1v1h-1zM568 34h1v1h-1zM569 33h1v1h-1zM570 32h1v1h-1zM571 31h1v1h-1zM572 30h1v1h-1zM573 29h1v1h-1zM574 28h2v1h-2zM576 27h1v1h-1zM577 26h1v1h-1zM578 25h1v1h-1zM579 24h1v1h-1zM580 23h1v1h-1zM581 22h1v1h-1zM582 21h1v1h-1zM583 20h1v1h-1zM584 19h1v1h-1zM585 18h1v1h-1zM586 17h2v1h-2zM588 16h1v1h-1zM589 15h1v1h-1zM590 14h1v1h-1zM591 13h1v1h-1zM592 12h1v1h-1zM593 11h1v1h-1zM594 10h1v1h-1zM595 9h1v1h-1zM596 8h1v1h-1zM597 7h1v1h-1zM598 6h1v1h-1zM599 5h2v1h-2zM601 4h1v1h-1zM602 3h1v1h-1zM603 2h1v1h-1zM604 1h1v1h-1zM605 0h1v1h-1zM606 -1h1v1h-1zM234 461h1v1h-1zM235 460h1v1h-1zM236 459h1v1h-1zM237 458h1v1h-1zM238 457h1v1h-1zM239 456h1v1h-1zM240 455h2v1h-2zM242 454h1v1h-1zM243 453h1v1h-1zM244 452h1v1h-1zM245 451h1v1h-1zM246 450h1v1h-1zM247 449h1v1h-1zM248 448h1v1h-1zM249 447h1v1h-1zM250 446h1v1h-1zM251 445h1v1h-1zM252 444h2v1h-2zM254 443h1v1h-1zM255 442h1v1h-1zM256 441h1v1h-1zM257 440h1v1h-1zM258 439h1v1h-1zM259 438h1v1h-1zM260 437h1v1h-1zM261 436h1v1h-1zM262 435h1v1h-1zM263 434h1v1h-1zM264 433h2v1h-2zM266 432h1v1h-1zM267 431h1v1h-1zM268 430h1v1h-1zM269 429h1v1h-1zM270 428h1v1h-1zM271 427h1v1h-1zM272 426h1v1h-1zM273 425h1v1h-1zM274 424h1v1h-1zM275 423h1v1h-1zM276 422h2v1h-2zM278 421h1v1h-1zM279 420h1v1h-1zM280 419h1v1h-1zM281 418h1v1h-1zM282 417h1v1h-1zM283 416h1v1h-1zM284 415h1v1h-1zM285 414h1v1h-1zM286 413h1v1h-1zM287 412h1v1h-1zM288 411h2v1h-2zM290 410h1v1h-1zM291 409h1v1h-1zM292 408h1v1h-1zM293 407h1v1h-1zM294 406h1v1h-1zM295 405h1v1h-1zM296 404h1v1h-1zM297 403h1v1h-1zM298 402h1v1h-1zM299 401h1v1h-1zM300 400h2v1h-2zM302 399h1v1h-1zM303 398h1v1h-1zM304 397h1v1h-1zM305 396h1v1h-1zM306 395h1v1h-1zM307 394h1v1h-1zM308 393h1v1h-1zM309 392h1v1h-1zM310 391h1v1h-1zM311 390h1v1h-1zM312 389h2v1h-2zM314 388h1v1h-1zM315 387h1v1h-1zM316 386h1v1h-1zM317 385h1v1h-1zM318 384h1v1h-1zM319 383h1v1h-1zM320 382h1v1h-1zM321 381h1v1h-1zM322 380h1v1h-1zM323 379h1v1h-1zM324 378h2v1h-2zM326 377h1v1h-1zM327 376h1v1h-1zM328 375h1v1h-1zM329 374h1v1h-1zM330 373h1v1h-1zM331 372h1v1h-1zM332 371h1v1h-1zM333 370h1v1h-1zM334 369h1v1h-1zM335 368h1v1h-1zM336 367h2v1h-2zM338 366h1v1h-1zM339 365h1v1h-1zM340 364h1v1h-1zM341 363h1v1h-1zM342 362h1v1h-1zM343 361h1v1h-1zM344 360h1v1h-1zM345 359h1v1h-1zM346 358h1v1h-1zM347 357h1v1h-1zM348 356h2v1h-2zM350 355h1v1h-1zM351 354h1v1h-1zM352 353h1v1h-1zM353 352h1v1h-1zM354 351h1v1h-1zM355 350h1v1h-1zM356 349h1v1h-1zM357 348h1v1h-1zM358 347h1v1h-1zM359 346h1v1h-1zM360 345h2v1h-2zM362 344h1v1h-1zM363 343h1v1h-1zM364 342h1v1h-1zM365 341h1v1h-1zM366 340h1v1h-1zM367 339h1v1h-1zM368 338h1v1h-1zM369 337h1v1h-1zM370 336h1v1h-1zM371 335h1v1h-1zM372 334h2v1h-2zM374 333h1v1h-1zM375 332h1v1h-1zM376 331h1v1h-1zM377 330h1v1h-1zM378 329h1v1h-1zM379 328h1v1h-1zM380 327h1v1h-1zM381 326h1v1h-1zM382 325h1v1h-1zM383 324h1v1h-1zM384 323h2v1h-2zM386 322h1v1h-1zM387 321h1v1h-1zM388 320h1v1h-1zM389 319h1v1h-1zM390 318h1v1h-1zM391 317h1v1h-1zM392 316h1v1h-1zM393 315h1v1h-1zM394 314h1v1h-1zM395 313h1v1h-1zM396 312h2v1h-2zM398 311h1v1h-1zM399 310h1v1h-1zM400 309h1v1h-1zM401 308h1v1h-1zM402 307h1v1h-1zM403 306h1v1h-1zM404 305h1v1h-1zM405 304h1v1h-1zM406 303h1v1h-1zM407 302h1v1h-1zM408 301h2v1h-2zM410 300h1v1h-1zM411 299h1v1h-1zM412 298h1v1h-1zM413 297h1v1h-1zM414 296h1v1h-1zM415 295h1v1h-1zM416 294h1v1h-1zM417 293h1v1h-1zM418 292h1v1h-1zM419 291h1v1h-1zM420 290h2v1h-2zM422 289h1v1h-1zM423 288h1v1h-1zM424 287h1v1h-1zM425 286h1v1h-1zM426 285h1v1h-1zM427 284h1v1h-1zM428 283h1v1h-1zM429 282h1v1h-1zM430 281h1v1h-1zM431 280h1v1h-1zM432 279h2v1h-2zM434 278h1v1h-1zM435 277h1v1h-1zM436 276h1v1h-1zM437 275h1v1h-1zM438 274h1v1h-1zM439 273h1v1h-1zM440 272h1v1h-1zM441 271h1v1h-1zM442 270h1v1h-1zM443 269h1v1h-1zM444 268h2v1h-2zM446 267h1v1h-1zM447 266h1v1h-1zM448 265h1v1h-1zM449 264h1v1h-1zM450 263h1v1h-1zM451 262h1v1h-1zM452 261h1v1h-1zM453 260h1v1h-1zM454 259h1v1h-1zM455 258h1v1h-1zM456 257h2v1h-2zM458 256h1v1h-1zM459 255h1v1h-1zM460 254h1v1h-1zM461 253h1v1h-1zM462 252h1v1h-1zM463 251h1v1h-1zM464 250h1v1h-1zM465 249h1v1h-1zM466 248h1v1h-1zM467 247h1v1h-1zM468 246h2v1h-2zM470 245h1v1h-1zM471 244h1v1h-1zM472 243h1v1h-1zM473 242h1v1h-1zM474 241h1v1h-1zM475 240h1v1h-1zM476 239h1v1h-1zM477 238h1v1h-1zM478 237h1v1h-1zM479 236h1v1h-1zM480 235h2v1h-2zM482 234h1v1h-1zM483 233h1v1h-1zM484 232h1v1h-1zM485 231h1v1h-1zM486 230h1v1h-1zM487 229h1v1h-1zM488 228h1v1h-1zM489 227h1v1h-1zM490 226h1v1h-1zM491 225h1v1h-1zM492 224h2v1h-2zM494 223h1v1h-1zM495 222h1v1h-1zM496 221h1v1h-1zM497 220h1v1h-1zM498 219h1v1h-1zM499 218h1v1h-1zM500 217h1v1h-1zM501 216h1v1h-1zM502 215h1v1h-1zM503 214h1v1h-1zM504 213h2v1h-2zM506 212h1v1h-1zM507 211h1v1h-1zM508 210h1v1h-1zM509 209h1v1h-1zM510 208h1v1h-1zM511 207h1v1h-1zM512 206h1v1h-1zM513 205h1v1h-1zM514 204h1v1h-1zM515 203h1v1h-1zM516 202h2v1h-2zM518 201h1v1h-1zM519 200h1v1h-1zM520 199h1v1h-1zM521 198h1v1h-1zM522 197h1v1h-1zM523 196h1v1h-1zM524 195h1v1h-1zM525 194h1v1h-1zM526 193h1v1h-1zM527 192h1v1h-1zM528 191h2v1h-2zM530 190h1v1h-1zM531 189h1v1h-1zM532 188h1v1h-1zM533 187h1v1h-1zM534 186h1v1h-1zM535 185h1v1h-1zM536 184h1v1h-1zM537 183h1v1h-1zM538 182h1v1h-1zM539 181h1v1h-1zM540 180h2v1h-2zM542 179h1v1h-1zM543 178h1v1h-1zM544 177h1v1h-1zM545 176h1v1h-1zM546 175h1v1h-1zM547 174h1v1h-1zM548 173h1v1h-1zM549 172h1v1h-1zM550 171h1v1h-1zM551 170h1v1h-1zM552 169h2v1h-2zM554 168h1v1h-1zM555 167h1v1h-1zM556 166h1v1h-1zM557 165h1v1h-1zM558 164h1v1h-1zM559 163h1v1h-1zM560 162h1v1h-1zM561 161h1v1h-1zM562 160h1v1h-1zM563 159h1v1h-1zM564 158h2v1h-2zM566 157h1v1h-1zM567 156h1v1h-1zM568 155h1v1h-1zM569 154h1v1h-1zM570 153h1v1h-1zM571 152h1v1h-1zM572 151h1v1h-1zM573 150h1v1h-1zM574 149h1v1h-1zM575 148h1v1h-1zM576 147h2v1h-2zM578 146h1v1h-1zM579 145h1v1h-1zM580 144h1v1h-1zM581 143h1v1h-1zM582 142h1v1h-1zM583 141h1v1h-1zM584 140h1v1h-1zM585 139h1v1h-1zM586 138h1v1h-1zM587 137h1v1h-1zM588 136h2v1h-2zM590 135h1v1h-1zM591 134h1v1h-1zM592 133h1v1h-1zM593 132h1v1h-1zM594 131h1v1h-1zM595 130h1v1h-1zM596 129h1v1h-1zM597 128h1v1h-1zM598 127h1v1h-1zM599 126h1v1h-1zM600 125h2v1h-2zM602 124h1v1h-1zM603 123h1v1h-1zM604 122h1v1h-1zM605 121h1v1h-1zM606 120h1v1h-1zM607 119h1v1h-1zM608 118h1v1h-1zM609 117h1v1h-1zM610 116h1v1h-1zM611 115h1v1h-1zM612 114h2v1h-2zM614 113h1v1h-1zM615 112h1v1h-1zM616 111h1v1h-1zM617 110h1v1h-1zM618 109h1v1h-1zM619 108h1v1h-1zM620 107h1v1h-1zM621 106h1v1h-1zM622 105h1v1h-1zM623 104h1v1h-1zM624 103h2v1h-2zM626 102h1v1h-1zM627 101h1v1h-1zM628 100h1v1h-1zM629 99h1v1h-1zM630 98h1v1h-1zM631 97h1v1h-1zM632 96h1v1h-1zM633 95h1v1h-1zM634 94h1v1h-1zM635 93h1v1h-1zM636 92h2v1h-2zM638 91h1v1h-1zM639 90h1v1h-1zM640 89h1v1h-1zM641 88h1v1h-1zM642 87h1v1h-1zM643 86h1v1h-1zM644 85h1v1h-1zM645 84h1v1h-1zM646 83h1v1h-1zM647 82h1v1h-1zM648 81h2v1h-2zM650 80h1v1h-1zM651 79h1v1h-1zM652 78h1v1h-1zM653 77h1v1h-1zM654 76h1v1h-1zM655 75h1v1h-1zM656 74h1v1h-1zM657 73h1v1h-1zM658 72h1v1h-1zM659 71h1v1h-1zM660 70h2v1h-2zM662 69h1v1h-1zM663 68h1v1h-1zM664 67h1v1h-1zM665 66h1v1h-1zM666 65h1v1h-1zM667 64h1v1h-1zM668 63h1v1h-1zM669 62h1v1h-1zM670 61h1v1h-1zM671 60h1v1h-1zM672 59h2v1h-2zM674 58h1v1h-1zM675 57h1v1h-1zM676 56h1v1h-1zM677 55h1v1h-1zM678 54h1v1h-1zM679 53h1v1h-1zM680 52h1v1h-1zM681 51h1v1h-1zM682 50h1v1h-1zM683 49h1v1h-1zM684 48h2v1h-2zM686 47h1v1h-1zM687 46h1v1h-1zM688 45h1v1h-1zM689 44h1v1h-1zM690 43h1v1h-1zM691 42h1v1h-1zM692 41h1v1h-1zM693 40h1v1h-1zM694 39h1v1h-1zM695 38h1v1h-1zM696 37h2v1h-2zM698 36h1v1h-1zM699 35h1v1h-1zM700 34h1v1h-1zM701 33h1v1h-1zM702 32h1v1h-1zM703 31h1v1h-1zM704 30h1v1h-1zM705 29h1v1h-1zM706 28h1v1h-1zM707 27h1v1h-1zM708 26h2v1h-2zM710 25h1v1h-1zM711 24h1v1h-1zM712 23h1v1h-1zM713 22h1v1h-1zM714 21h1v1h-1zM715 20h1v1h-1zM716 19h1v1h-1zM717 18h1v1h-1zM718 17h1v1h-1zM719 16h1v1h-1zM720 15h2v1h-2zM722 14h1v1h-1zM723 13h1v1h-1zM724 12h1v1h-1zM725 11h1v1h-1zM726 10h1v1h-1zM727 9h1v1h-1zM728 8h1v1h-1zM729 7h1v1h-1zM730 6h1v1h-1zM731 5h1v1h-1zM732 4h2v1h-2zM734 3h1v1h-1zM735 2h1v1h-1zM736 1h1v1h-1zM737 0h1v1h-1zM738 -1h1v1h-1zM739 -2h1v1h-1zM740 -3h1v1h-1z" fill="#ff0000"/>
<path clip-path="url(#cg)" d="M218 355h1v1h-1zM219 354h1v1h-1zM220 353h1v1h-1zM221 352h1v1h-1zM222 351h1v1h-1zM223 350h2v1h-2zM225 349h1v1h-1zM226 348h1v1h-1zM227 347h1v1h-1zM228 346h1v1h-1zM229 345h1v1h-1zM230 344h1v1h-1zM231 343h1v1h-1zM232 342h1v1h-1zM233 341h1v1h-1zM234 340h1v1h-1zM235 339h2v1h-2zM237 338h1v1h-1zM238 337h1v1h-1zM239 336h1v1h-1zM240 335h1v1h-1zM241 334h1v1h-1zM242 333h1v1h-1zM243 332h1v1h-1zM244 331h1v1h-1zM245 330h1v1h-1zM246 329h1v1h-1zM247 328h2v1h-2zM249 327h1v1h-1zM250 326h1v1h-1zM251 325h1v1h-1zM252 324h1v1h-1zM253 323h1v1h-1zM254 322h1v1h-1zM255 321h1v1h-1zM256 320h1v1h-1zM257 319h1v1h-1zM258 318h1v1h-1zM259 317h1v1h-1zM260 316h2v1h-2zM262 315h1v1h-1zM263 314h1v1h-1zM264 313h1v1h-1zM265 312h1v1h-1zM266 311h1v1h-1zM267 310h1v1h-1zM268 309h1v1h-1zM269 308h1v1h-1zM270 307h1v1h-1zM271 306h1v1h-1zM272 305h2v1h-2zM274 304h1v1h-1zM275 303h1v1h-1zM276 302h1v1h-1zM277 301h1v1h-1zM278 300h1v1h-1zM279 299h1v1h-1zM280 298h1v1h-1zM281 297h1v1h-1zM282 296h1v1h-1zM283 295h1v1h-1zM284 294h2v1h-2zM286 293h1v1h-1zM287 292h1v1h-1zM288 291h1v1h-1zM289 290h1v1h-1zM290 289h1v1h-1zM291 288h1v1h-1zM292 287h1v1h-1zM293 286h1v1h-1zM294 285h1v1h-1zM295 284h1v1h-1zM296 283h2v1h-2zM298 282h1v1h-1zM299 281h1v1h-1zM300 280h1v1h-1zM301 279h1v1h-1zM302 278h1v1h-1zM303 277h1v1h-1zM304 276h1v1h-1zM305 275h1v1h-1zM306 274h1v1h-1zM307 273h1v1h-1zM308 272h2v1h-2zM310 271h1v1h-1zM311 270h1v1h-1zM312 269h1v1h-1zM313 268h1v1h-1zM314 267h1v1h-1zM315 266h1v1h-1zM316 265h1v1h-1zM317 264h1v1h-1zM318 263h1v1h-1zM319 262h1v1h-1zM320 261h2v1h-2zM322 260h1v1h-1zM323 259h1v1h-1zM324 258h1v1h-1zM325 257h1v1h-1zM326 256h1v1h-1zM327 255h1v1h-1zM328 254h1v1h-1zM329 253h1v1h-1zM330 252h1v1h-1zM331 251h1v1h-1zM332 250h2v1h-2zM334 249h1v1h-1zM335 248h1v1h-1zM336 247h1v1h-1zM337 246h1v1h-1zM338 245h1v1h-1zM339 244h1v1h-1zM340 243h1v1h-1zM341 242h1v1h-1zM342 241h1v1h-1zM343 240h1v1h-1zM344 239h2v1h-2zM346 238h1v1h-1zM347 237h1v1h-1zM348 236h1v1h-1zM349 235h1v1h-1zM350 234h1v1h-1zM351 233h1v1h-1zM352 232h1v1h-1zM353 231h1v1h-1zM354 230h1v1h-1zM355 229h1v1h-1zM356 228h2v1h-2zM358 227h1v1h-1zM359 226h1v1h-1zM360 225h1v1h-1zM361 224h1v1h-1zM362 223h1v1h-1zM363 222h1v1h-1zM364 221h1v1h-1zM365 220h1v1h-1zM366 219h1v1h-1zM367 218h1v1h-1zM368 217h1v1h-1zM369 216h2v1h-2zM371 215h1v1h-1zM372 214h1v1h-1zM373 213h1v1h-1zM374 212h1v1h-1zM375 211h1v1h-1zM376 210h1v1h-1zM377 209h1v1h-1zM378 208h1v1h-1zM379 207h1v1h-1zM380 206h1v1h-1zM381 205h2v1h-2zM383 204h1v1h-1zM384 203h1v1h-1zM385 202h1v1h-1zM386 201h1v1h-1zM387 200h1v1h-1zM388 199h1v1h-1zM389 198h1v1h-1zM390 197h1v1h-1zM391 196h1v1h-1zM392 195h1v1h-1zM393 194h2v1h-2zM395 193h1v1h-1zM396 192h1v1h-1zM397 191h1v1h-1zM398 190h1v1h-1zM399 189h1v1h-1zM400 188h1v1h-1zM401 187h1v1h-1zM402 186h1v1h-1zM403 185h1v1h-1zM404 184h1v1h-1zM405 183h2v1h-2zM407 182h1v1h-1zM408 181h1v1h-1zM409 180h1v1h-1zM410 179h1v1h-1zM411 178h1v1h-1zM412 177h1v1h-1zM413 176h1v1h-1zM414 175h1v1h-1zM415 174h1v1h-1zM416 173h1v1h-1zM417 172h2v1h-2zM419 171h1v1h-1zM420 170h1v1h-1zM421 169h1v1h-1zM422 168h1v1h-1zM423 167h1v1h-1zM424 166h1v1h-1zM425 165h1v1h-1zM426 164h1v1h-1zM427 163h1v1h-1zM428 162h1v1h-1zM429 161h2v1h-2zM431 160h1v1h-1zM432 159h1v1h-1zM433 158h1v1h-1zM434 157h1v1h-1zM435 156h1v1h-1zM436 155h1v1h-1zM437 154h1v1h-1zM438 153h1v1h-1zM439 152h1v1h-1zM440 151h1v1h-1zM441 150h2v1h-2zM443 149h1v1h-1zM444 148h1v1h-1zM445 147h1v1h-1zM446 146h1v1h-1zM447 145h1v1h-1zM448 144h1v1h-1zM449 143h1v1h-1zM450 142h1v1h-1zM451 141h1v1h-1zM452 140h1v1h-1zM453 139h2v1h-2zM455 138h1v1h-1zM456 137h1v1h-1zM457 136h1v1h-1zM458 135h1v1h-1zM459 134h1v1h-1zM460 133h1v1h-1zM461 132h1v1h-1zM462 131h1v1h-1zM463 130h1v1h-1zM464 129h1v1h-1zM465 128h2v1h-2zM467 127h1v1h-1zM468 126h1v1h-1zM469 125h1v1h-1zM470 124h1v1h-1zM471 123h1v1h-1zM472 122h1v1h-1zM473 121h1v1h-1zM474 120h1v1h-1zM475 119h1v1h-1zM476 118h1v1h-1zM477 117h2v1h-2zM479 116h1v1h-1zM480 115h1v1h-1zM481 114h1v1h-1zM482 113h1v1h-1zM483 112h1v1h-1zM484 111h1v1h-1zM485 110h1v1h-1zM486 109h1v1h-1zM487 108h1v1h-1zM488 107h1v1h-1zM489 106h1v1h-1zM490 105h2v1h-2zM492 104h1v1h-1zM493 103h1v1h-1zM494 102h1v1h-1zM495 101h1v1h-1zM496 100h1v1h-1zM497 99h1v1h-1zM498 98h1v1h-1zM499 97h1v1h-1zM500 96h1v1h-1zM501 95h1v1h-1zM502 94h2v1h-2zM504 93h1v1h-1zM505 92h1v1h-1zM506 91h1v1h-1zM507 90h1v1h-1zM508 89h1v1h-1zM509 88h1v1h-1zM510 87h1v1h-1zM511 86h1v1h-1zM512 85h1v1h-1zM513 84h1v1h-1zM514 83h2v1h-2zM516 82h1v1h-1zM517 81h1v1h-1zM518 80h1v1h-1zM519 79h1v1h-1zM520 78h1v1h-1zM521 77h1v1h-1zM522 76h1v1h-1zM523 75h1v1h-1zM524 74h1v1h-1zM525 73h1v1h-1zM526 72h2v1h-2zM528 71h1v1h-1zM529 70h1v1h-1zM530 69h1v1h-1zM531 68h1v1h-1zM532 67h1v1h-1zM533 66h1v1h-1zM534 65h1v1h-1zM535 64h1v1h-1zM536 63h1v1h-1zM537 62h1v1h-1zM538 61h2v1h-2zM540 60h1v1h-1zM541 59h1v1h-1zM542 58h1v1h-1zM543 57h1v1h-1zM544 56h1v1h-1zM545 55h1v1h-1zM546 54h1v1h-1zM547 53h1v1h-1zM548 52h1v1h-1zM549 51h1v1h-1zM550 50h2v1h-2zM552 49h1v1h-1zM553 48h1v1h-1zM554 47h1v1h-1zM555 46h1v1h-1zM556 45h1v1h-1zM557 44h1v1h-1zM558 43h1v1h-1zM559 42h1v1h-1zM560 41h1v1h-1zM561 40h1v1h-1zM562 39h2v1h-2zM564 38h1v1h-1zM565 37h1v1h-1zM566 36h1v1h-1zM567 35h1v1h-1zM568 34h1v1h-1zM569 33h1v1h-1zM570 32h1v1h-1zM571 31h1v1h-1zM572 30h1v1h-1zM573 29h1v1h-1zM574 28h2v1h-2zM576 27h1v1h-1zM577 26h1v1h-1zM578 25h1v1h-1zM579 24h1v1h-1zM580 23h1v1h-1zM581 22h1v1h-1zM582 21h1v1h-1zM583 20h1v1h-1zM584 19h1v1h-1zM585 18h1v1h-1zM586 17h2v1h-2zM588 16h1v1h-1zM589 15h1v1h-1zM590 14h1v1h-1zM591 13h1v1h-1zM592 12h1v1h-1zM593 11h1v1h-1zM594 10h1v1h-1zM595 9h1v1h-1zM596 8h1v1h-1zM597 7h1v1h-1zM598 6h1v1h-1zM599 5h2v1h-2zM601 4h1v1h-1zM602 3h1v1h-1zM603 2h1v1h-1zM604 1h1v1h-1zM605 0h1v1h-1zM606 -1h1v1h-1zM234 461h1v1h-1zM235 460h1v1h-1zM236 459h1v1h-1zM237 458h1v1h-1zM238 457h1v1h-1zM239 456h1v1h-1zM240 455h2v1h-2zM242 454h1v1h-1zM243 453h1v1h-1zM244 452h1v1h-1zM245 451h1v1h-1zM246 450h1v1h-1zM247 449h1v1h-1zM248 448h1v1h-1zM249 447h1v1h-1zM250 446h1v1h-1zM251 445h1v1h-1zM252 444h2v1h-2zM254 443h1v1h-1zM255 442h1v1h-1zM256 441h1v1h-1zM257 440h1v1h-1zM258 439h1v1h-1zM259 438h1v1h-1zM260 437h1v1h-1zM261 436h1v1h-1zM262 435h1v1h-1zM263 434h1v1h-1zM264 433h2v1h-2zM266 432h1v1h-1zM267 431h1v1h-1zM268 430h1v1h-1zM269 429h1v1h-1zM270 428h1v1h-1zM271 427h1v1h-1zM272 426h1v1h-1zM273 425h1v1h-1zM274 424h1v1h-1zM275 423h1v1h-1zM276 422h2v1h-2zM278 421h1v1h-1zM279 420h1v1h-1zM280 419h1v1h-1zM281 418h1v1h-1zM282 417h1v1h-1zM283 416h1v1h-1zM284 415h1v1h-1zM285 414h1v1h-1zM286 413h1v1h-1zM287 412h1v1h-1zM288 411h2v1h-2zM290 410h1v1h-1zM291 409h1v1h-1zM292 408h1v1h-1zM293 407h1v1h-1zM294 406h1v1h-1zM295 405h1v1h-1zM296 404h1v1h-1zM297 403h1v1h-1zM298 402h1v1h-1zM299 401h1v1h-1zM300 400h2v1h-2zM302 399h1v1h-1zM303 398h1v1h-1zM304 397h1v1h-1zM305 396h1v1h-1zM306 395h1v1h-1zM307 394h1v1h-1zM308 393h1v1h-1zM309 392h1v1h-1zM310 391h1v1h-1zM311 390h1v1h-1zM312 389h2v1h-2zM314 388h1v1h-1zM315 387h1v1h-1zM316 386h1v1h-1zM317 385h1v1h-1zM318 384h1v1h-1zM319 383h1v1h-1zM320 382h1v1h-1zM321 381h1v1h-1zM322 380h1v1h-1zM323 379h1v1h-1zM324 378h2v1h-2zM326 377h1v1h-1zM327 376h1v1h-1zM328 375h1v1h-1zM329 374h1v1h-1zM330 373h1v1h-1zM331 372h1v1h-1zM332 371h1v1h-1zM333 370h1v1h-1zM334 369h1v1h-1zM335 368h1v1h-1zM336 367h2v1h-2zM338 366h1v1h-1zM339 365h1v1h-1zM340 364h1v1h-1zM341 363h1v1h-1zM342 362h1v1h-1zM343 361h1v1h-1zM344 360h1v1h-1zM345 359h1v1h-1zM346 358h1v1h-1zM347 357h1v1h-1zM348 356h2v1h-2zM350 355h1v1h-1zM351 354h1v1h-1zM352 353h1v1h-1zM353 352h1v1h-1zM354 351h1v1h-1zM355 350h1v1h-1zM356 349h1v1h-1zM357 348h1v1h-1zM358 347h1v1h-1zM359 346h1v1h-1zM360 345h2v1h-2zM362 344h1v1h-1zM363 343h1v1h-1zM364 342h1v1h-1zM365 341h1v1h-1zM366 340h1v1h-1zM367 339h1v1h-1zM368 338h1v1h-1zM369 337h1v1h-1zM370 336h1v1h-1zM371 335h1v1h-1zM372 334h2v1h-2zM374 333h1v1h-1zM375 332h1v1h-1zM376 331h1v1h-1zM377 330h1v1h-1zM378 329h1v1h-1zM379 328h1v1h-1zM380 327h1v1h-1zM381 326h1v1h-1zM382 325h1v1h-1zM383 324h1v1h-1zM384 323h2v1h-2zM386 322h1v1h-1zM387 321h1v1h-1zM388 320h1v1h-1zM389 319h1v1h-1zM390 318h1v1h-1zM391 317h1v1h-1zM392 316h1v1h-1zM393 315h1v1h-1zM394 314h1v1h-1zM395 313h1v1h-1zM396 312h2v1h-2zM398 311h1v1h-1zM399 310h1v1h-1zM400 309h1v1h-1zM401 308h1v1h-1zM402 307h1v1h-1zM403 306h1v1h-1zM404 305h1v1h-1zM405 304h1v1h-1zM406 303h1v1h-1zM407 302h1v1h-1zM408 301h2v1h-2zM410 300h1v1h-1zM411 299h1v1h-1zM412 298h1v1h-1zM413 297h1v1h-1zM414 296h1v1h-1zM415 295h1v1h-1zM416 294h1v1h-1zM417 293h1v1h-1zM418 292h1v1h-1zM419 291h1v1h-1zM420 290h2v1h-2zM422 289h1v1h-1zM423 288h1v1h-1zM424 287h1v1h-1zM425 286h1v1h-1zM426 285h1v1h-1zM427 284h1v1h-1zM428 283h1v1h-1zM429 282h1v1h-1zM430 281h1v1h-1zM431 280h1v1h-1zM432 279h2v1h-2zM434 278h1v1h-1zM435 277h1v1h-1zM436 276h1v1h-1zM437 275h1v1h-1zM438 274h1v1h-1zM439 273h1v1h-1zM440 272h1v1h-1zM441 271h1v1h-1zM442 270h1v1h-1zM443 269h1v1h-1zM444 268h2v1h-2zM446 267h1v1h-1zM447 266h1v1h-1zM448 265h1v1h-1zM449 264h1v1h-1zM450 263h1v1h-1zM451 262h1v1h-1zM452 261h1v1h-1zM453 260h1v1h-1zM454 259h1v1h-1zM455 258h1v1h-1zM456 257h2v1h-2zM458 256h1v1h-1zM459 255h1v1h-1zM460 254h1v1h-1zM461 253h1v1h-1zM462 252h1v1h-1zM463 251h1v1h-1zM464 250h1v1h-1zM465 249h1v1h-1zM466 248h1v1h-1zM467 247h1v1h-1zM468 246h2v1h-2zM470 245h1v1h-1zM471 244h1v1h-1zM472 243h1v1h-1zM473 242h1v1h-1zM474 241h1v1h-1zM475 240h1v1h-1zM476 239h1v1h-1zM477 238h1v1h-1zM478 237h1v1h-1zM479 236h1v1h-1zM480 235h2v1h-2zM482 234h1v1h-1zM483 233h1v1h-1zM484 232h1v1h-1zM485 231h1v1h-1zM486 230h1v1h-1zM487 229h1v1h-1zM488 228h1v1h-1zM489 227h1v1h-1zM490 226h1v1h-1zM491 225h1v1h-1zM492 224h2v1h-2zM494 223h1v1h-1zM495 222h1v1h-1zM496 221h1v1h-1zM497 220h1v1h-1zM498 219h1v1h-1zM499 218h1v1h-1zM500 217h1v1h-1zM501 216h1v1h-1zM502 215h1v1h-1zM503 214h1v1h-1zM504 213h2v1h-2zM506 212h1v1h-1zM507 211h1v1h-1zM508 210h1v1h-1zM509 209h1v1h-1zM510 208h1v1h-1zM511 207h1v1h-1zM512 206h1v1h-1zM513 205h1v1h-1zM514 204h1v1h-1zM515 203h1v1h-1zM516 202h2v1h-2zM518 201h1v1h-1zM519 200h1v1h-1zM520 199h1v1h-1zM521 198h1v1h-1zM522 197h1v1h-1zM523 196h1v1h-1zM524 195h1v1h-1zM525 194h1v1h-1zM526 193h1v1h-1zM527 192h1v1h-1zM528 191h2v1h-2zM530 190h1v1h-1zM531 189h1v1h-1zM532 188h1v1h-1zM533 187h1v1h-1zM534 186h1v1h-1zM535 185h1v1h-1zM536 184h1v1h-1zM537 183h1v1h-1zM538 182h1v1h-1zM539 181h1v1h-1zM540 180h2v1h-2zM542 179h1v1h-1zM543 178h1v1h-1zM544 177h1v1h-1zM545 176h1v1h-1zM546 175h1v1h-1zM547 174h1v1h-1zM548 173h1v1h-1zM549 172h1v1h-1zM550 171h1v1h-1zM551 170h1v1h-1zM552 169h2v1h-2zM554 168h1v1h-1zM555 167h1v1h-1zM556 166h1v1h-1zM557 165h1v1h-1zM558 164h1v1h-1zM559 163h1v1h-1zM560 162h1v1h-1zM561 161h1v1h-1zM562 160h1v1h-1zM563 159h1v1h-1zM564 158h2v1h-2zM566 157h1v1h-1zM567 156h1v1h-1zM568 155h1v1h-1zM569 154h1v1h-1zM570 153h1v1h-1zM571 152h1v1h-1zM572 151h1v1h-1zM573 150h1v1h-1zM574 149h1v1h-1zM575 148h1v1h-1zM576 147h2v1h-2zM578 146h1v1h-1zM579 145h1v1h-1zM580 144h1v1h-1zM581 143h1v1h-1zM582 142h1v1h-1zM583 141h1v1h-1zM584 140h1v1h-1zM585 139h1v1h-1zM586 138h1v1h-1zM587 137h1v1h-1zM588 136h2v1h-2zM590 135h1v1h-1zM591 134h1v1h-1zM592 133h1v1h-1zM593 132h1v1h-1zM594 131h1v1h-1zM595 130h1v1h-1zM596 129h1v1h-1zM597 128h1v1h-1zM598 127h1v1h-1zM599 126h1v1h-1zM600 125h2v1h-2zM602 124h1v1h-1zM603 123h1v1h-1zM604 122h1v1h-1zM605 121h1v1h-1zM606 120h1v1h-1zM607 119h1v1h-1zM608 118h1v1h-1zM609 117h1v1h-1zM610 116h1v1h-1zM611 115h1v1h-1zM612 114h2v1h-2zM614 113h1v1h-1zM615 112h1v1h-1zM616 111h1v1h-1zM617 110h1v1h-1zM618 109h1v1h-1zM619 108h1v1h-1zM620 107h1v1h-1zM621 106h1v1h-1zM622 105h1v1h-1zM623 104h1v1h-1zM624 103h2v1h-2zM626 102h1v1h-1zM627 101h1v1h-1zM628 100h1v1h-1zM629 99h1v1h-1zM630 98h1v1h-1zM631 97h1v1h-1zM632 96h1v1h-1zM633 95h1v1h-1zM634 94h1v1h-1zM635 93h1v1h-1zM636 92h2v1h-2zM638 91h1v1h-1zM639 90h1v1h-1zM640 89h1v1h-1zM641 88h1v1h-1zM642 87h1v1h-1zM643 86h1v1h-1zM644 85h1v1h-1zM645 84h1v1h-1zM646 83h1v1h-1zM647 82h1v1h-1zM648 81h2v1h-2zM650 80h1v1h-1zM651 79h1v1h-1zM652 78h1v1h-1zM653 77h1v1h-1zM654 76h1v1h-1zM655 75h1v1h-1zM656 74h1v1h-1zM657 73h1v1h-1zM658 72h1v1h-1zM659 71h1v1h-1zM660 70h2v1h-2zM662 69h1v1h-1zM663 68h1v1h-1zM664 67h1v1h-1zM665 66h1v1h-1zM666 65h1v1h-1zM667 64h1v1h-1zM668 63h1v1h-1zM669 62h1v1h-1zM670 61h1v1h-1zM671 60h1v1h-1zM672 59h2v1h-2zM674 58h1v1h-1zM675 57h1v1h-1zM676 56h1v1h-1zM677 55h1v1h-1zM678 54h1v1h-1zM679 53h1v1h-1zM680 52h1v1h-1zM681 51h1v1h-1zM682 50h1v1h-1zM683 49h1v1h-1zM684 48h2v1h-2zM686 47h1v1h-1zM687 46h1v1h-1zM688 45h1v1h-1zM689 44h1v1h-1zM690 43h1v1h-1zM691 42h1v1h-1zM692 41h1v1h-1zM693 40h1v1h-1zM694 39h1v1h-1zM695 38h1v1h-1zM696 37h2v1h-2zM698 36h1v1h-1zM699 35h1v1h-1zM700 34h1v1h-1zM701 33h1v1h-1zM702 32h1v1h-1zM703 31h1v1h-1zM704 30h1v1h-1zM705 29h1v1h-1zM706 28h1v1h-1zM707 27h1v1h-1zM708 26h2v1h-2zM710 25h1v1h-1zM711 24h1v1h-1zM712 23h1v1h-1zM713 22h1v1h-1zM714 21h1v1h-1zM715 20h1v1h-1zM716 19h1v1h-1zM717 18h1v1h-1zM718 17h1v1h-1zM719 16h1v1h-1zM720 15h2v1h-2zM722 14h1v1h-1zM723 13h1v1h-1zM724 12h1v1h-1zM725 11h1v1h-1zM726 10h1v1h-1zM727 9h1v1h-1zM728 8h1v1h-1zM729 7h1v1h-1zM730 6h1v1h-1zM731 5h1v1h-1zM732 4h2v1h-2zM734 3h1v1h-1zM735 2h1v1h-1zM736 1h1v1h-1zM737 0h1v1h-1zM738 -1h1v1h-1zM739 -2h1v1h-1zM740 -3h1v1h-1z" fill="#a0208a"/>
</g>
<g fill="#2f4f4f">
<rect x="2" y="2" width="846" height="1"/>
<rect x="2" y="2" width="1" height="468"/>
<rect x="2" y="471" width="1" height="109"/>
<rect x="847" y="2" width="1" height="468"/>
<rect x="2" y="469" width="846" height="1"/>
<rect x="2" y="471" width="846" height="1"/>
<rect x="848" y="472" width="4" height="1"/>
<rect x="847" y="471" width="1" height="109"/>
<rect x="2" y="579" width="846" height="1"/>
<rect x="848" y="578" width="4" height="1"/>
<rect x="847" y="149" width="5" height="1"/>
<rect x="847" y="181" width="5" height="1"/>
<rect x="847" y="213" width="5" height="1"/>
<rect x="847" y="245" width="5" height="1"/>
<rect x="847" y="277" width="5" height="1"/>
<rect x="847" y="309" width="5" height="1"/>
<rect x="847" y="341" width="5" height="1"/>
<rect x="847" y="373" width="5" height="1"/>
<rect x="847" y="405" width="5" height="1"/>
<rect x="847" y="437" width="5" height="1"/>
<rect x="847" y="21" width="5" height="1"/>
<rect x="847" y="53" width="5" height="1"/>
<rect x="847" y="85" width="5" height="1"/>
<rect x="847" y="117" width="5" height="1"/>
<rect x="847" y="503" width="5" height="1"/>
<rect x="847" y="547" width="5" height="1"/>
<rect x="2" y="579" width="1" height="5"/>
<rect x="66" y="579" width="1" height="5"/>
<rect x="130" y="579" width="1" height="5"/>
<rect x="194" y="579" width="1" height="5"/>
<rect x="258" y="579" width="1" height="5"/>
<rect x="322" y="579" width="1" height="5"/>
<rect x="386" y="579" width="1" height="5"/>
<rect x="450" y="579" width="1" height="5"/>
<rect x="514" y="579" width="1" height="5"/>
<rect x="578" y="579" width="1" height="5"/>
<rect x="642" y="579" width="1" height="5"/>
</g>
<g shape-rendering="auto" text-rendering="geometricPrecision">
<text y="13"><tspan x="6.5">XAUUSD,</tspan> <tspan x="52">Daily:</tspan> <tspan x="82.2" textLength="17.6" lengthAdjust="spacingAndGlyphs">Gold</tspan> <tspan x="104.5" textLength="18.4" lengthAdjust="spacingAndGlyphs">Spot</tspan></text>
<text x="5" y="483.5" textLength="58" lengthAdjust="spacingAndGlyphs">RSI(14) 61.58</text>
<text x="853.5" y="153" textLength="31.5" lengthAdjust="spacingAndGlyphs">1844.53</text>
<text x="853.5" y="185" textLength="31.5" lengthAdjust="spacingAndGlyphs">1827.41</text>
<text x="853.5" y="217" textLength="31.5" lengthAdjust="spacingAndGlyphs">1810.29</text>
<text x="853.5" y="249" textLength="31.5" lengthAdjust="spacingAndGlyphs">1793.17</text>
<text x="853.5" y="281" textLength="31.5" lengthAdjust="spacingAndGlyphs">1776.05</text>
<text x="853.5" y="313" textLength="31.5" lengthAdjust="spacingAndGlyphs">1758.93</text>
<text x="853.5" y="345" textLength="31.5" lengthAdjust="spacingAndGlyphs">1741.81</text>
<text x="853.5" y="377" textLength="31.5" lengthAdjust="spacingAndGlyphs">1724.69</text>
<text x="853.5" y="409" textLength="31.5" lengthAdjust="spacingAndGlyphs">1707.57</text>
<text x="853.5" y="441" textLength="31.5" lengthAdjust="spacingAndGlyphs">1690.45</text>
<text x="853.5" y="57" textLength="31.5" lengthAdjust="spacingAndGlyphs">1895.89</text>
<text x="853.5" y="121" textLength="31.5" lengthAdjust="spacingAndGlyphs">1861.65</text>
<rect x="850" y="48" width="39" height="6" fill="#708090"/>
<rect x="850" y="17" width="39" height="11" fill="#228b22"/>
<text class="w" x="853.5" y="26" textLength="31.5" lengthAdjust="spacingAndGlyphs">1912.34</text>
<rect x="850" y="58" width="39" height="11" fill="#708090"/>
<text class="w" x="853.5" y="67" textLength="31.5" lengthAdjust="spacingAndGlyphs">1890.43</text>
<rect x="850" y="80" width="39" height="11" fill="#708090"/>
<text class="w" x="853.5" y="89" textLength="31.5" lengthAdjust="spacingAndGlyphs">1878.59</text>
<rect x="850" y="96" width="39" height="11" fill="#708090"/>
<text class="w" x="853.5" y="105" textLength="31.5" lengthAdjust="spacingAndGlyphs">1869.83</text>
<rect x="850" y="116" width="39" height="11" fill="#708090"/>
<text class="w" x="853.5" y="125" textLength="31.5" lengthAdjust="spacingAndGlyphs">1859.31</text>
<rect x="850" y="133" width="39" height="11" fill="#708090"/>
<text class="w" x="853.5" y="142" textLength="31.5" lengthAdjust="spacingAndGlyphs">1850.54</text>
<rect x="850" y="40" width="39" height="11" fill="#228b22"/>
<text class="w" x="853.5" y="49" textLength="31.5" lengthAdjust="spacingAndGlyphs">1900.07</text>
<text x="853.5" y="480" textLength="26.5" lengthAdjust="spacingAndGlyphs">100.00</text>
<text x="852.5" y="506.5" textLength="22.5" lengthAdjust="spacingAndGlyphs">70.00</text>
<text x="852.5" y="551" textLength="22.5" lengthAdjust="spacingAndGlyphs">30.00</text>
<text x="852.5" y="577" textLength="17.5" lengthAdjust="spacingAndGlyphs">0.00</text>
<text x="2.3" y="592" textLength="50.6" lengthAdjust="spacingAndGlyphs">18 Feb 2021</text>
<text x="66.3" y="592" textLength="46.1" lengthAdjust="spacingAndGlyphs">2 Mar 2021</text>
<text x="130.3" y="592" textLength="51.1" lengthAdjust="spacingAndGlyphs">12 Mar 2021</text>
<text x="194.3" y="592" textLength="50.8" lengthAdjust="spacingAndGlyphs">24 Mar 2021</text>
<text x="258.3" y="592" textLength="45.3" lengthAdjust="spacingAndGlyphs">6 Apr 2021</text>
<text x="322.3" y="592" textLength="49.9" lengthAdjust="spacingAndGlyphs">16 Apr 2021</text>
<text x="386.3" y="592" textLength="50.1" lengthAdjust="spacingAndGlyphs">28 Apr 2021</text>
<text x="450.3" y="592" textLength="54" lengthAdjust="spacingAndGlyphs">10 May 2021</text>
<text x="514.3" y="592" textLength="54" lengthAdjust="spacingAndGlyphs">20 May 2021</text>
<text x="578.3" y="592" textLength="43.8" lengthAdjust="spacingAndGlyphs">1 Jun 2021</text>
<text x="642.3" y="592" textLength="48" lengthAdjust="spacingAndGlyphs">11 Jun 2021</text>
</g>
<line x1="3" x2="847" y1="503.5" y2="503.5" stroke="#c0c0c0" stroke-dasharray="3 3" stroke-dashoffset="1"/>
<line x1="3" x2="847" y1="547.5" y2="547.5" stroke="#c0c0c0" stroke-dasharray="3 3" stroke-dashoffset="1"/>
<polyline shape-rendering="crispEdges" points="3,543 10.5,540.5 18,530.8 34.2,530.8 42.2,540.5 50.5,548 59.2,548 65,544.2 68.3,544.2 74.5,548.7 90,548.7 94.2,550.5 99.2,550.5 106.7,539.5 112.5,537 125,537 130.8,535.3 138.3,534.7 147.5,533.8 153.3,529.7 156.7,529.7 159.7,530.8 165,530.8 168.7,528.8 174.2,528.8 178.3,530 185,533.7 188.3,533.7 192.5,532 197.5,532 200.8,532.8 205.8,532.8 208.3,532 211.7,532 216.7,535.8 226.7,543.8 230.8,538.3 241.7,528 251.7,528 257.2,523.8 260.8,523.8 263.3,524.7 267.5,524.7 273.3,520 275.8,520 281.7,524.2 288.3,527 291.7,527 296.7,524.2 300,524.2 304.2,525.8 306.7,525.8 315,518 320,515.8 325,515.8 328.3,517 333.3,517 338.3,515.3 345,511.7 347.5,511.7 353.3,515 360.8,518 365,518 368.3,516.7 373.3,516.7 376.7,518 388.3,518 395,521.7 403.3,521.7 410,515 411.7,515 418.3,520 420.8,520 425.8,518 435,510 443.3,505.8 450,505.8 452.5,504.7 458.3,504.7 465.8,513.8 469.2,513.8 473.3,511.7 483.3,508.3 490.8,503 497.5,502.5 500,501.7 513.3,501.7 515.8,500.8 521.7,500.8 524.2,500 532.5,499.7 537.5,496.7 541.7,496.7 544.2,497.8 561.7,497.8 564.2,496.7 571.7,496.7 576.7,500 581.7,500 583.7,498.8 586.7,499.2 594.2,518.8 596.7,518.3 603.3,513.3 607.5,511.7 613.3,511.7 623.3,514.7 628.3,514.7 635.8,511.7 642.8,511.7" fill="none" stroke="#000" stroke-width="2.2" stroke-linejoin="round"/>
</svg></body></html>
